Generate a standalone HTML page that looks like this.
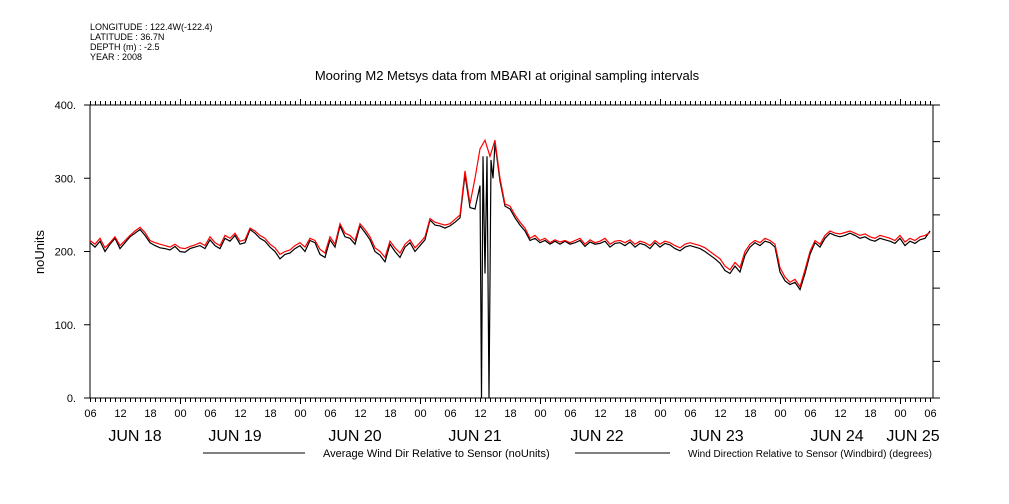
<!DOCTYPE html>
<html><head><meta charset="utf-8"><style>
body{margin:0;background:#fff}
svg{display:block;font-family:"Liberation Sans",sans-serif}
</style></head><body>
<svg id="c" width="1009" height="504">
<g fill="#000" font-size="9">
<text x="90" y="30">LONGITUDE : 122.4W(-122.4)</text>
<text x="90" y="40">LATITUDE : 36.7N</text>
<text x="90" y="50">DEPTH (m) : -2.5</text>
<text x="90" y="60">YEAR : 2008</text>
</g>
<text x="507" y="80" text-anchor="middle" font-size="13">Mooring M2 Metsys data from MBARI at original sampling intervals</text>
<text x="44" y="252" font-size="13" text-anchor="middle" transform="rotate(-90 44 252)">noUnits</text>
<g id="axes"></g>
<g id="series"></g>
<g font-size="11">
<line x1="203" y1="453" x2="305" y2="453" stroke="#000"/>
<text x="323" y="457">Average Wind Dir Relative to Sensor (noUnits)</text>
<line x1="575" y1="453" x2="670" y2="453" stroke="#000"/>
<text x="688" y="457" font-size="10">Wind Direction Relative to Sensor (Windbird) (degrees)</text>
</g>
</svg>
<script>
const yTicks=[0,100,200,300,400];
const dayLabels=["JUN 18","JUN 19","JUN 20","JUN 21","JUN 22","JUN 23","JUN 24","JUN 25"];
const dayLabelX=[135,235,355,475,597,717,837,913];
const redValues=[215,210,218,205,212,220,208,215,222,228,233,226,215,212,210,208,206,210,205,204,207,209,212,208,
220,212,208,222,218,225,214,216,232,228,222,218,210,205,196,200,202,208,212,206,218,215,203,198,
220,210,238,225,222,215,238,230,220,205,200,192,214,205,198,210,216,205,212,220,245,240,238,236,
238,244,250,310,265,300,340,352,330,352,300,265,262,250,240,232,218,222,215,218,212,216,213,215,
212,215,218,210,216,212,214,218,210,214,215,212,216,210,214,212,208,215,210,214,212,208,205,210,
212,210,208,205,200,195,190,180,175,185,178,200,210,215,212,218,215,210,178,165,158,162,152,175,
200,215,210,222,228,225,224,226,228,225,222,224,220,218,222,220,218,215,222,213,218,215,220,222,226];
const blackHead=[212,206,214,200,210,218,204,212,220,225,230,222,212,208,205,204,202,207,200,199,204,206,208,204,
216,208,204,218,214,222,210,212,230,225,218,214,206,200,190,196,198,204,208,200,215,212,196,192,
216,206,235,220,218,210,235,226,216,200,195,186,210,200,192,206,212,200,208,216,243,236,235,232,
235,240,246,305,260,258];
const blackPeakHours=[78,78.3,78.6,79,79.4,79.8,80.2,80.6];
const blackPeak=[290,0,330,170,330,0,325,300];
const blackTail=[348,296,262,258,246,236,228,215,218,212,215,210,214,210,214,
210,212,215,207,213,210,211,214,206,211,212,208,213,206,211,209,204,212,206,211,209,204,201,206,
208,206,204,200,195,190,184,174,170,180,172,195,206,212,208,214,212,206,172,160,155,158,148,170,
196,212,206,218,225,222,220,222,225,222,218,220,216,214,218,216,214,211,218,208,214,211,216,218,228];
const redHours=redValues.map((v,i)=>i);
const blackHours=blackHead.map((v,i)=>i).concat(blackPeakHours,blackTail.map((v,i)=>81+i));
const blackValues=blackHead.concat(blackPeak,blackTail);
const X0=90,X1=933,Y0=398,Y1=105,HMAX=168.6;
const xs=h=>X0+(X1-X0)*h/HMAX;
const ys=v=>Y0-(Y0-Y1)*v/400;
const NS="http://www.w3.org/2000/svg";
function mk(t,a,p){const e=document.createElementNS(NS,t);for(const k in a)e.setAttribute(k,a[k]);p.appendChild(e);return e;}
const ax=document.getElementById('axes');
const frame=mk('rect',{x:X0,y:Y1,width:X1-X0,height:Y0-Y1,fill:'none',stroke:'#000'},ax);


for(let h=0;h<=HMAX;h++){
 const x=xs(h)+0.5,day=(h+6)%24===0,big=day?6:4;
 mk('line',{x1:x,y1:Y0,x2:x,y2:Y0+big,stroke:'#000'},ax);
 mk('line',{x1:x,y1:Y1,x2:x,y2:Y1-big,stroke:'#000'},ax);
 if(h%6===0){
  const t=mk('text',{x:x,y:Y0+19,'text-anchor':'middle','font-size':11},ax);
  t.textContent=String((h+6)%24).padStart(2,'0');
  
  
 }
}
yTicks.forEach(v=>{
 const y=ys(v);
 mk('line',{x1:X0-6,y1:y,x2:X0,y2:y,stroke:'#000'},ax);
 const t=mk('text',{x:X0-14,y:y+4,'text-anchor':'end','font-size':11},ax);
 t.textContent=v+'.';
 
 
});
for(let v=0;v<=400;v+=50){const y=ys(v);mk('line',{x1:X1,y1:y,x2:X1+7,y2:y,stroke:'#000'},ax);}
dayLabels.forEach((d,i)=>{
 const t=mk('text',{x:dayLabelX[i],y:441,'text-anchor':'middle','font-size':16},ax);
 t.textContent=d;
 
 
});
const sg=document.getElementById('series');
function line(hs,vs,col,w,name){
 const d=hs.map((h,i)=>(i?'L':'M')+xs(h).toFixed(1)+','+ys(vs[i]).toFixed(1)).join('');
 const p=mk('path',{d:d,fill:'none',stroke:col,'stroke-width':w},sg);
 
 
}
line(blackHours,blackValues,'#000',1.2,'series-average-wind-dir');
line(redHours,redValues,'#f00',1.2,'series-windbird-dir');
</script>
</body></html>
